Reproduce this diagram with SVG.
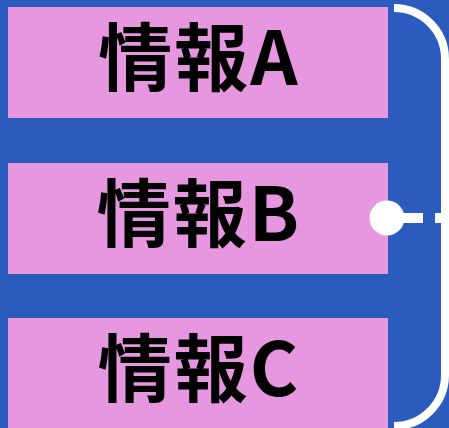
<svg xmlns="http://www.w3.org/2000/svg" width="449" height="428" viewBox="0 0 449 428">
<style>
.box{fill:#E697E0;}
.lbl{font-family:"Noto Sans CJK JP","Noto Sans CJK SC",sans-serif;font-weight:bold;font-size:74px;letter-spacing:2px;fill:#000;text-anchor:middle;}
.wire{fill:none;stroke:#fff;stroke-width:8;}
</style>
<rect width="449" height="428" fill="#2C5BBE"/>
<g id="nodeA"><rect class="box" x="8" y="7" width="380" height="111"/><text class="lbl" x="199" y="85">情報A</text></g>
<g id="nodeB"><rect class="box" x="8" y="163" width="380" height="111"/><text class="lbl" x="199" y="241">情報B</text></g>
<g id="nodeC"><rect class="box" x="8" y="318" width="380" height="111"/><text class="lbl" x="199" y="396">情報C</text></g>
<g id="connectors">
<path class="wire" d="M394 8 A51 51 0 0 1 445 59 V375 A51 51 0 0 1 394 426"/>
<line x1="387" y1="218" x2="449" y2="218" stroke="#fff" stroke-width="10" stroke-dasharray="36 12"/>
<circle cx="387" cy="218" r="17.5" fill="#fff"/>
</g>
</svg>
